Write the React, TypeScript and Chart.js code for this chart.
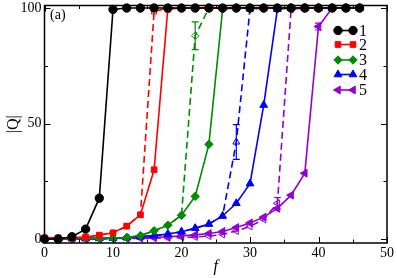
import React, { useEffect, useRef } from "react";
import { Chart, registerables } from "chart.js";
import { drawPoint } from "chart.js/helpers";

Chart.register(...registerables);

const X = [0, 2, 4, 6, 8, 10, 12, 14, 16, 18, 20, 22, 24, 26, 28, 30, 32, 34, 36, 38, 40, 42, 44, 46];

const s1 = [0, 0, 1, 4.3, 17.7, 99.4, 100, 100, 100, 100, 100, 100, 100, 100, 100, 100, 100, 100, 100, 100, 100, 100, 100, 100];
const s2 = [0.5, 0.5, 0.5, 0.8, 1.7, 2.7, 5.6, 10.5, 30, 99.5, 100, 100, 100, 100, 100, 100, 100, 100, 100, 100, 100, 100, 100, 100];
const s2d = [0.5, 0.5, 0.5, 0.8, 1.7, 2.7, 5.6, 10.5, 98.5, 100, 100, 100, 100, 100, 100, 100, 100, 100, 100, 100, 100, 100, 100, 100];
const s3 = [0.2, 0.2, 0.2, 0.3, 0.3, 0.4, 0.7, 1.5, 3.6, 6, 10.3, 18.5, 41, 99.5, 100, 100, 100, 100, 100, 100, 100, 100, 100, 100];
const s3d = [0.2, 0.2, 0.2, 0.3, 0.3, 0.4, 0.7, 1.5, 3.6, 6, 10.3, 88, 100, 100, 100, 100, 100, 100, 100, 100, 100, 100, 100, 100];
const s4 = [0.2, 0.2, 0.2, 0.2, 0.3, 0.4, 0.6, 1, 1.5, 2.2, 3.2, 4.7, 6.5, 10, 15.5, 24, 58, 99.5, 100, 100, 100, 100, 100, 100];
const s4d = [0.2, 0.2, 0.2, 0.2, 0.3, 0.4, 0.6, 1, 1.5, 2.2, 3.2, 4.7, 6.5, 10, 42, 99.5, 100, 100, 100, 100, 100, 100, 100, 100];
const s5 = [0.1, 0.1, 0.1, 0.1, 0.2, 0.3, 0.4, 0.6, 0.8, 1, 1.4, 1.8, 2.4, 3.3, 5, 7, 9.5, 13.3, 19, 28.5, 92, 100, 100, 100];
const s5d = [0, 0, 0, 0, 0.1, 0.1, 0.2, 0.3, 0.4, 0.5, 0.7, 0.9, 1.3, 2, 3.5, 5.5, 8.5, 15.5, 99.5, 100, 100, 100, 100, 100];

// error bars: [x, half-width]
const err3d = [[22, 6]];
const err4d = [[28, 7.5]];
const err5d = [[34, 2.5]];
const err5 = [[40, 1.5]];

const legendLabels = ["1", "2", "3", "4", "5"];
const xTicks = [0, 10, 20, 30, 40, 50];
const xMinor = [5, 15, 25, 35, 45];
const yTicks = [0, 50, 100];
const yMinor = [25, 75];

const COLORS = ["#000000", "#ff0000", "#008b00", "#0000ff", "#9400d3"];
const STYLES = ["circle", "rect", "rectRot", "triangle", "triangle"];
const ROT = [0, 0, 0, 0, 270];
const RAD = [4.2, 4, 4.2, 4.5, 4.5];

function mk(vals: number[], i: number, dashed: boolean, errs: number[][]) {
  return {
    data: X.map((x, k) => ({ x, y: vals[k] })),
    borderColor: COLORS[i],
    backgroundColor: COLORS[i],
    pointBackgroundColor: dashed ? "rgba(255,255,255,0)" : COLORS[i],
    pointBorderColor: COLORS[i],
    pointStyle: STYLES[i],
    pointRotation: ROT[i],
    pointRadius: dashed ? RAD[i] - 0.5 : RAD[i],
    pointBorderWidth: 1,
    borderWidth: 1.6,
    borderDash: dashed ? [7, 4] : [],
    tension: 0,
    clip: false as any,
    errs,
  };
}

export default function App() {
  const ref = useRef<HTMLCanvasElement>(null);
  useEffect(() => {
    document.body.style.margin = "0";
    const ctx = ref.current!;
    const datasets: any[] = [
      mk(s1, 0, false, []),
      mk(s2d, 1, true, []),
      mk(s2, 1, false, []),
      mk(s3d, 2, true, err3d),
      mk(s3, 2, false, []),
      mk(s4d, 3, true, err4d),
      mk(s4, 3, false, []),
      mk(s5d, 4, true, err5d),
      mk(s5, 4, false, err5),
    ];

    const extras = {
      id: "extras",
      afterDatasetsDraw(chart: any) {
        const c = chart.ctx;
        const xs = chart.scales.x;
        const ys = chart.scales.y;
        c.save();
        chart.data.datasets.forEach((ds: any) => {
          c.strokeStyle = ds.borderColor;
          c.lineWidth = 1.2;
          (ds.errs || []).forEach((e: number[]) => {
            const idx = X.indexOf(e[0]);
            const v = ds.data[idx].y;
            const px = xs.getPixelForValue(e[0]);
            const y1 = ys.getPixelForValue(v + e[1]);
            const y2 = ys.getPixelForValue(v - e[1]);
            c.beginPath();
            c.moveTo(px, y1);
            c.lineTo(px, y2);
            c.moveTo(px - 3.5, y1);
            c.lineTo(px + 3.5, y1);
            c.moveTo(px - 3.5, y2);
            c.lineTo(px + 3.5, y2);
            c.stroke();
          });
        });
        c.restore();
      },
      afterDraw(chart: any) {
        const c = chart.ctx;
        const a = chart.chartArea;
        const xs = chart.scales.x;
        const ys = chart.scales.y;
        c.save();
        c.strokeStyle = "#000";
        c.lineWidth = 1.5;
        c.strokeRect(a.left, a.top, a.right - a.left, a.bottom - a.top);
        c.lineWidth = 1;
        c.beginPath();
        const tickX = (v: number, len: number) => {
          const p = Math.round(xs.getPixelForValue(v)) + 0.5;
          c.moveTo(p, a.bottom);
          c.lineTo(p, a.bottom - len);
          c.moveTo(p, a.top);
          c.lineTo(p, a.top + len);
        };
        const tickY = (v: number, len: number) => {
          const p = Math.round(ys.getPixelForValue(v)) + 0.5;
          c.moveTo(a.left, p);
          c.lineTo(a.left + len, p);
          c.moveTo(a.right, p);
          c.lineTo(a.right - len, p);
        };
        xTicks.forEach((v) => tickX(v, 6));
        xMinor.forEach((v) => tickX(v, 3.5));
        yTicks.forEach((v) => tickY(v, 6));
        yMinor.forEach((v) => tickY(v, 3.5));
        c.stroke();

        // panel label
        c.fillStyle = "#000";
        c.font = "14px 'Liberation Serif'";
        c.textBaseline = "middle";
        c.textAlign = "left";
        c.fillText("(a)", 50, 15.5);

        // legend
        const rows = [30.5, 44.5, 60, 74.5, 90];
        legendLabels.forEach((lab, i) => {
          const y = rows[i];
          c.strokeStyle = COLORS[i];
          c.fillStyle = COLORS[i];
          c.lineWidth = 1.6;
          c.setLineDash([]);
          c.beginPath();
          c.moveTo(338, y);
          c.lineTo(353, y);
          c.stroke();
          c.lineWidth = 1;
          const opt = { pointStyle: STYLES[i], radius: RAD[i], rotation: ROT[i], borderWidth: 1 };
          drawPoint(c, opt as any, 338, y);
          drawPoint(c, opt as any, 353, y);
          c.fillStyle = "#000";
          c.font = "16px 'Liberation Serif'";
          c.textAlign = "left";
          c.textBaseline = "middle";
          c.fillText(lab, 359, y + 1);
        });
        c.restore();
      },
    };

    const chart = new Chart(ctx, {
      type: "line",
      data: { datasets },
      options: {
        responsive: false,
        animation: false,
        layout: { padding: { left: 0, right: 10, top: 4.5, bottom: 0 } },
        plugins: { legend: { display: false }, tooltip: { enabled: false } },
        scales: {
          x: {
            type: "linear",
            min: 0,
            max: 50,
            afterBuildTicks: (s: any) => { s.ticks = xTicks.map((v) => ({ value: v })); },
            afterFit: (s: any) => { s.height = 35; s.paddingLeft = 0; s.paddingRight = 0; },
            grid: { display: false, drawTicks: false },
            border: { display: false },
            ticks: { color: "#000", padding: 2, font: { family: "'Liberation Serif'", size: 14 } },
            title: { display: true, text: "f", color: "#000", padding: { top: 0, bottom: 2 }, font: { family: "'Liberation Serif'", size: 16, style: "italic" } },
          },
          y: {
            type: "linear",
            min: -1.7,
            max: 101.1,
            afterBuildTicks: (s: any) => { s.ticks = yTicks.map((v) => ({ value: v })); },
            afterFit: (s: any) => { s.width = 44.5; s.paddingTop = 0; s.paddingBottom = 0; },
            grid: { display: false, drawTicks: false },
            border: { display: false },
            ticks: { color: "#000", padding: 3, font: { family: "'Liberation Serif'", size: 14 } },
            title: { display: true, text: "|Q|", color: "#000", padding: { top: 4, bottom: 0 }, font: { family: "'Liberation Serif'", size: 16 } },
          },
        },
      } as any,
      plugins: [extras],
    });
    return () => chart.destroy();
  }, []);
  return (
    <div style={{ position: "absolute", left: 0, top: 0, width: 397, height: 278 }}>
      <canvas ref={ref} width={397} height={278} />
    </div>
  );
}
